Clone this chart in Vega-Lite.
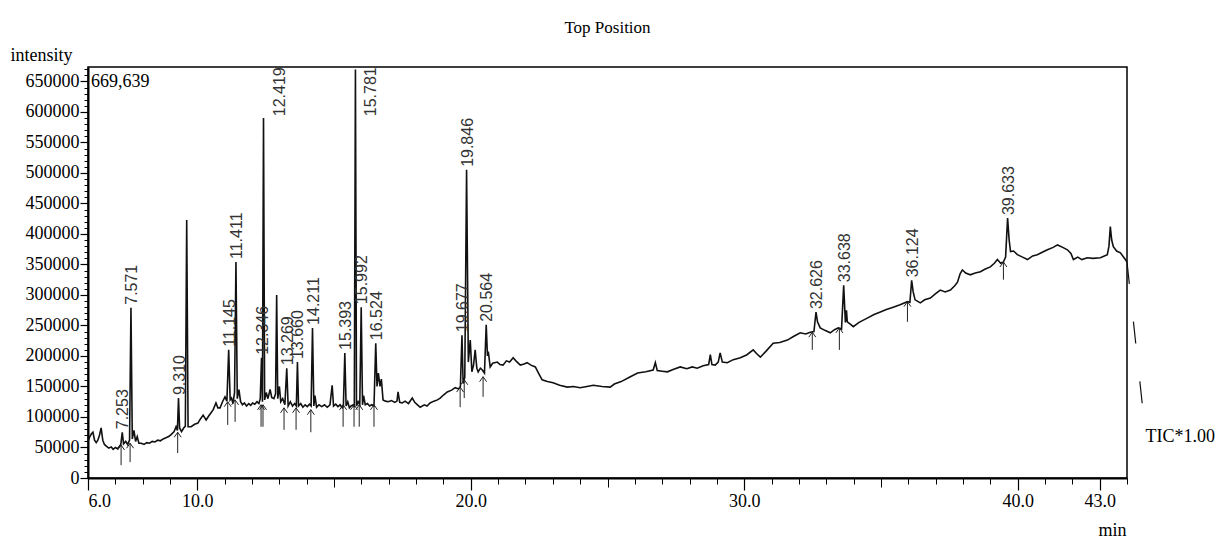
{
  "$schema": "https://vega.github.io/schema/vega-lite/v6.json",
  "width": 1039,
  "height": 411,
  "autosize": {"type": "none"},
  "padding": {"left": 88, "top": 67, "right": 88, "bottom": 63},
  "background": "white",
  "title": {"text": "Top Position", "font": "Liberation Serif", "fontSize": 17, "fontWeight": "normal", "color": "black", "anchor": "middle", "offset": 9},
  "config": {
    "view": {"stroke": "black", "strokeWidth": 1.5},
    "axis": {"grid": false, "labelFont": "Liberation Serif", "labelColor": "black", "tickColor": "black", "domainColor": "black", "titleFont": "Liberation Serif", "titleColor": "black", "titleFontWeight": "normal", "labelOverlap": false}
  },
  "datasets": {
    "trace": [
      {"t":6.00,"v":60000},{"t":6.05,"v":66000},{"t":6.12,"v":72000},{"t":6.18,"v":75000},{"t":6.24,"v":62000},{"t":6.30,"v":58000},{"t":6.36,"v":62000},{"t":6.42,"v":70000},{"t":6.48,"v":82000},{"t":6.54,"v":62000},{"t":6.60,"v":55000},{"t":6.68,"v":52000},{"t":6.76,"v":49000},{"t":6.85,"v":51000},{"t":6.92,"v":47000},{"t":7.00,"v":50000},{"t":7.08,"v":48000},{"t":7.15,"v":52000},{"t":7.20,"v":55000},{"t":7.253,"v":75000},{"t":7.30,"v":56000},{"t":7.38,"v":60000},{"t":7.45,"v":55000},{"t":7.52,"v":62000},{"t":7.571,"v":279000},{"t":7.62,"v":64000},{"t":7.68,"v":78000},{"t":7.74,"v":60000},{"t":7.80,"v":68000},{"t":7.86,"v":57000},{"t":7.95,"v":57000},{"t":8.05,"v":55000},{"t":8.15,"v":58000},{"t":8.25,"v":57000},{"t":8.35,"v":60000},{"t":8.45,"v":59000},{"t":8.55,"v":62000},{"t":8.65,"v":61000},{"t":8.75,"v":64000},{"t":8.85,"v":66000},{"t":8.95,"v":68000},{"t":9.04,"v":71000},{"t":9.15,"v":76000},{"t":9.22,"v":84000},{"t":9.27,"v":78000},{"t":9.31,"v":131000},{"t":9.35,"v":82000},{"t":9.42,"v":76000},{"t":9.50,"v":82000},{"t":9.56,"v":85000},{"t":9.61,"v":423000},{"t":9.66,"v":84000},{"t":9.77,"v":84000},{"t":9.90,"v":88000},{"t":10.02,"v":90000},{"t":10.10,"v":96000},{"t":10.21,"v":103000},{"t":10.32,"v":95000},{"t":10.42,"v":102000},{"t":10.50,"v":107000},{"t":10.58,"v":112000},{"t":10.68,"v":123000},{"t":10.75,"v":115000},{"t":10.83,"v":115000},{"t":10.92,"v":125000},{"t":11.01,"v":133000},{"t":11.08,"v":126000},{"t":11.145,"v":210000},{"t":11.20,"v":128000},{"t":11.25,"v":131000},{"t":11.30,"v":122000},{"t":11.36,"v":140000},{"t":11.411,"v":354000},{"t":11.46,"v":130000},{"t":11.52,"v":145000},{"t":11.58,"v":125000},{"t":11.65,"v":120000},{"t":11.72,"v":123000},{"t":11.80,"v":118000},{"t":11.88,"v":122000},{"t":11.95,"v":119000},{"t":12.02,"v":123000},{"t":12.10,"v":121000},{"t":12.18,"v":125000},{"t":12.25,"v":122000},{"t":12.30,"v":130000},{"t":12.346,"v":197000},{"t":12.38,"v":125000},{"t":12.419,"v":590000},{"t":12.46,"v":128000},{"t":12.52,"v":140000},{"t":12.58,"v":130000},{"t":12.66,"v":145000},{"t":12.72,"v":132000},{"t":12.80,"v":130000},{"t":12.86,"v":138000},{"t":12.90,"v":300000},{"t":12.94,"v":130000},{"t":13.00,"v":150000},{"t":13.05,"v":125000},{"t":13.12,"v":130000},{"t":13.20,"v":120000},{"t":13.269,"v":180000},{"t":13.32,"v":118000},{"t":13.40,"v":125000},{"t":13.48,"v":118000},{"t":13.56,"v":122000},{"t":13.62,"v":118000},{"t":13.66,"v":190000},{"t":13.70,"v":118000},{"t":13.78,"v":122000},{"t":13.86,"v":116000},{"t":13.94,"v":120000},{"t":14.02,"v":117000},{"t":14.10,"v":121000},{"t":14.16,"v":118000},{"t":14.211,"v":246000},{"t":14.26,"v":118000},{"t":14.30,"v":135000},{"t":14.36,"v":116000},{"t":14.45,"v":120000},{"t":14.55,"v":117000},{"t":14.65,"v":120000},{"t":14.75,"v":116000},{"t":14.85,"v":120000},{"t":14.93,"v":152000},{"t":14.98,"v":118000},{"t":15.06,"v":121000},{"t":15.14,"v":117000},{"t":15.22,"v":120000},{"t":15.30,"v":115000},{"t":15.34,"v":118000},{"t":15.393,"v":205000},{"t":15.44,"v":118000},{"t":15.50,"v":125000},{"t":15.56,"v":115000},{"t":15.62,"v":118000},{"t":15.70,"v":120000},{"t":15.74,"v":116000},{"t":15.781,"v":669639},{"t":15.82,"v":118000},{"t":15.88,"v":125000},{"t":15.94,"v":120000},{"t":15.992,"v":280000},{"t":16.04,"v":120000},{"t":16.08,"v":135000},{"t":16.14,"v":120000},{"t":16.22,"v":122000},{"t":16.30,"v":118000},{"t":16.38,"v":120000},{"t":16.46,"v":118000},{"t":16.524,"v":221000},{"t":16.57,"v":150000},{"t":16.62,"v":172000},{"t":16.68,"v":150000},{"t":16.73,"v":162000},{"t":16.79,"v":128000},{"t":16.88,"v":126000},{"t":16.98,"v":125000},{"t":17.10,"v":127000},{"t":17.22,"v":124000},{"t":17.30,"v":126000},{"t":17.34,"v":141000},{"t":17.40,"v":124000},{"t":17.49,"v":123000},{"t":17.60,"v":126000},{"t":17.72,"v":122000},{"t":17.86,"v":131000},{"t":17.95,"v":124000},{"t":18.05,"v":120000},{"t":18.15,"v":116000},{"t":18.30,"v":120000},{"t":18.40,"v":118000},{"t":18.51,"v":123000},{"t":18.65,"v":126000},{"t":18.78,"v":128000},{"t":18.88,"v":131000},{"t":19.00,"v":136000},{"t":19.14,"v":141000},{"t":19.30,"v":144000},{"t":19.43,"v":148000},{"t":19.55,"v":146000},{"t":19.62,"v":150000},{"t":19.677,"v":234000},{"t":19.72,"v":155000},{"t":19.78,"v":165000},{"t":19.846,"v":505000},{"t":19.91,"v":190000},{"t":19.98,"v":226000},{"t":20.04,"v":174000},{"t":20.10,"v":185000},{"t":20.16,"v":210000},{"t":20.22,"v":180000},{"t":20.27,"v":174000},{"t":20.35,"v":180000},{"t":20.42,"v":177000},{"t":20.50,"v":172000},{"t":20.564,"v":251000},{"t":20.61,"v":200000},{"t":20.64,"v":207000},{"t":20.71,"v":182000},{"t":20.80,"v":188000},{"t":20.97,"v":190000},{"t":21.07,"v":186000},{"t":21.18,"v":185000},{"t":21.30,"v":192000},{"t":21.42,"v":190000},{"t":21.55,"v":197000},{"t":21.65,"v":192000},{"t":21.81,"v":185000},{"t":21.95,"v":187000},{"t":22.06,"v":189000},{"t":22.20,"v":185000},{"t":22.36,"v":182000},{"t":22.50,"v":170000},{"t":22.61,"v":161000},{"t":22.80,"v":158000},{"t":23.01,"v":156000},{"t":23.25,"v":152000},{"t":23.53,"v":149000},{"t":23.75,"v":150000},{"t":24.00,"v":148000},{"t":24.25,"v":150000},{"t":24.48,"v":152000},{"t":24.80,"v":150000},{"t":25.10,"v":149000},{"t":25.25,"v":154000},{"t":25.50,"v":158000},{"t":25.80,"v":165000},{"t":26.10,"v":172000},{"t":26.40,"v":174000},{"t":26.67,"v":177000},{"t":26.75,"v":189000},{"t":26.82,"v":176000},{"t":27.00,"v":175000},{"t":27.19,"v":174000},{"t":27.40,"v":178000},{"t":27.66,"v":182000},{"t":27.90,"v":179000},{"t":28.10,"v":182000},{"t":28.28,"v":180000},{"t":28.50,"v":184000},{"t":28.70,"v":186000},{"t":28.76,"v":202000},{"t":28.82,"v":186000},{"t":28.94,"v":185000},{"t":29.05,"v":190000},{"t":29.12,"v":205000},{"t":29.20,"v":190000},{"t":29.38,"v":189000},{"t":29.60,"v":194000},{"t":29.86,"v":197000},{"t":30.10,"v":202000},{"t":30.33,"v":210000},{"t":30.45,"v":204000},{"t":30.59,"v":198000},{"t":30.80,"v":208000},{"t":31.06,"v":221000},{"t":31.30,"v":222000},{"t":31.58,"v":226000},{"t":31.80,"v":232000},{"t":32.05,"v":238000},{"t":32.25,"v":236000},{"t":32.42,"v":239000},{"t":32.55,"v":240000},{"t":32.626,"v":272000},{"t":32.68,"v":256000},{"t":32.78,"v":246000},{"t":32.95,"v":242000},{"t":33.15,"v":238000},{"t":33.30,"v":243000},{"t":33.44,"v":246000},{"t":33.56,"v":244000},{"t":33.638,"v":316000},{"t":33.70,"v":255000},{"t":33.74,"v":275000},{"t":33.77,"v":256000},{"t":33.88,"v":252000},{"t":33.99,"v":248000},{"t":34.20,"v":255000},{"t":34.50,"v":262000},{"t":34.75,"v":268000},{"t":34.98,"v":272000},{"t":35.20,"v":276000},{"t":35.45,"v":280000},{"t":35.70,"v":284000},{"t":35.97,"v":289000},{"t":36.06,"v":288000},{"t":36.124,"v":324000},{"t":36.18,"v":305000},{"t":36.25,"v":292000},{"t":36.44,"v":287000},{"t":36.60,"v":292000},{"t":36.81,"v":295000},{"t":37.00,"v":302000},{"t":37.17,"v":308000},{"t":37.35,"v":305000},{"t":37.54,"v":308000},{"t":37.70,"v":315000},{"t":37.80,"v":321000},{"t":37.90,"v":335000},{"t":37.98,"v":341000},{"t":38.10,"v":336000},{"t":38.27,"v":333000},{"t":38.45,"v":336000},{"t":38.64,"v":338000},{"t":38.80,"v":342000},{"t":39.00,"v":346000},{"t":39.15,"v":352000},{"t":39.26,"v":358000},{"t":39.38,"v":352000},{"t":39.48,"v":354000},{"t":39.56,"v":362000},{"t":39.633,"v":426000},{"t":39.69,"v":390000},{"t":39.74,"v":371000},{"t":39.85,"v":372000},{"t":39.99,"v":366000},{"t":40.18,"v":362000},{"t":40.36,"v":358000},{"t":40.55,"v":364000},{"t":40.72,"v":366000},{"t":40.90,"v":370000},{"t":41.09,"v":374000},{"t":41.30,"v":378000},{"t":41.46,"v":382000},{"t":41.65,"v":378000},{"t":41.82,"v":374000},{"t":41.95,"v":368000},{"t":42.04,"v":358000},{"t":42.20,"v":362000},{"t":42.35,"v":358000},{"t":42.55,"v":361000},{"t":42.75,"v":360000},{"t":43.03,"v":361000},{"t":43.28,"v":366000},{"t":43.34,"v":380000},{"t":43.39,"v":412000},{"t":43.44,"v":390000},{"t":43.50,"v":379000},{"t":43.62,"v":372000},{"t":43.76,"v":369000},{"t":43.94,"v":358000},{"t":44.00,"v":354000}
    ],
    "tail": [{"t":44.0,"v":354000},{"t":44.66,"v":79000}],
    "peaks": [
      {"rt":"7.253","t":7.253,"h":75000},{"rt":"7.571","t":7.571,"h":279000},{"rt":"9.310","t":9.31,"h":131000},{"rt":"11.145","t":11.145,"h":210000},{"rt":"11.411","t":11.411,"h":354000},{"rt":"12.346","t":12.346,"h":197000},{"rt":"12.419","t":12.419,"h":590000},{"rt":"13.269","t":13.269,"h":180000},{"rt":"13.660","t":13.66,"h":190000},{"rt":"14.211","t":14.211,"h":246000},{"rt":"15.393","t":15.393,"h":205000},{"rt":"15.781","t":15.781,"h":669639},{"rt":"15.992","t":15.992,"h":280000},{"rt":"16.524","t":16.524,"h":221000},{"rt":"19.677","t":19.677,"h":234000},{"rt":"19.846","t":19.846,"h":505000},{"rt":"20.564","t":20.564,"h":251000},{"rt":"32.626","t":32.626,"h":272000},{"rt":"33.638","t":33.638,"h":316000},{"rt":"36.124","t":36.124,"h":324000},{"rt":"39.633","t":39.633,"h":426000}
    ],
    "arrows": [
      {"t":7.21,"top":54000,"bot":21000},{"t":7.54,"top":57000,"bot":26000},{"t":9.28,"top":75000,"bot":41000},{"t":11.11,"top":125000,"bot":87000},{"t":11.38,"top":128000,"bot":92000},{"t":12.33,"top":120000,"bot":84000},{"t":12.40,"top":120000,"bot":84000},{"t":13.17,"top":115000,"bot":79000},{"t":13.61,"top":115000,"bot":79000},{"t":14.15,"top":112000,"bot":75000},{"t":15.33,"top":120000,"bot":84000},{"t":15.73,"top":120000,"bot":84000},{"t":15.92,"top":120000,"bot":84000},{"t":16.46,"top":120000,"bot":84000},{"t":19.61,"top":149000,"bot":116000},{"t":19.76,"top":161000,"bot":131000},{"t":20.45,"top":166000,"bot":133000},{"t":32.49,"top":239000,"bot":210000},{"t":33.48,"top":246000,"bot":210000},{"t":35.97,"top":289000,"bot":256000},{"t":39.48,"top":354000,"bot":325000}
    ],
    "notes": [{"n": 1}]
  },
  "resolve": {"scale": {"x": "shared", "y": "shared"}, "axis": {"x": "independent", "y": "independent"}},
  "layer": [
    {
      "data": {"name": "tail"},
      "mark": {"type": "line", "strokeOpacity": 0},
      "encoding": {
        "x": {"field": "t", "type": "quantitative", "scale": {"domain": [6, 44], "nice": false, "zero": false},
          "axis": {"orient": "bottom", "values": [6,7,8,9,10,11,12,13,14,15,16,17,18,19,20,21,22,23,24,25,26,27,28,29,30,31,32,33,34,35,36,37,38,39,40,41,42,43,44], "labels": false, "domain": false, "tickSize": 6, "tickWidth": 1, "title": null}},
        "y": {"field": "v", "type": "quantitative", "scale": {"domain": [0, 673600], "nice": false, "zero": false},
          "axis": {"orient": "left", "values": [0,10000,20000,30000,40000,50000,60000,70000,80000,90000,100000,110000,120000,130000,140000,150000,160000,170000,180000,190000,200000,210000,220000,230000,240000,250000,260000,270000,280000,290000,300000,310000,320000,330000,340000,350000,360000,370000,380000,390000,400000,410000,420000,430000,440000,450000,460000,470000,480000,490000,500000,510000,520000,530000,540000,550000,560000,570000,580000,590000,600000,610000,620000,630000,640000,650000,660000,670000], "labels": false, "domain": false, "tickSize": 4, "tickWidth": 1, "title": null}}
      }
    },
    {
      "data": {"name": "tail"},
      "mark": {"type": "line", "strokeOpacity": 0},
      "encoding": {
        "x": {"field": "t", "type": "quantitative",
          "axis": {"orient": "bottom", "values": [15, 25, 35], "labels": false, "domain": false, "tickSize": 9, "tickWidth": 1, "title": null}},
        "y": {"field": "v", "type": "quantitative", "axis": null}
      }
    },
    {
      "data": {"name": "trace"},
      "mark": {"type": "line", "color": "#111111", "strokeWidth": 1.6, "strokeJoin": "miter"},
      "encoding": {
        "x": {"field": "t", "type": "quantitative",
          "axis": {"orient": "bottom", "values": [6, 10, 20, 30, 40, 43], "format": ".1f", "tickSize": 12, "tickWidth": 1.2, "domainWidth": 2, "labelFontSize": 18, "labelPadding": 2,
            "title": "min", "titleFontSize": 18, "titleX": 1038, "titleY": 52, "titleAlign": "right", "titleBaseline": "middle", "titleAnchor": null}},
        "y": {"field": "v", "type": "quantitative",
          "axis": {"orient": "left", "values": [0,50000,100000,150000,200000,250000,300000,350000,400000,450000,500000,550000,600000,650000], "format": "d", "tickSize": 8, "tickWidth": 1.2, "domainWidth": 2, "labelFontSize": 18, "labelPadding": 1,
            "title": "intensity", "titleFontSize": 18, "titleAngle": 0, "titleX": -78, "titleY": -12, "titleAlign": "left", "titleBaseline": "middle"}}
      }
    },
    {
      "data": {"name": "tail"},
      "mark": {"type": "line", "color": "#111111", "strokeWidth": 1.2, "strokeDash": [22, 38], "clip": false},
      "encoding": {
        "x": {"field": "t", "type": "quantitative", "axis": null},
        "y": {"field": "v", "type": "quantitative", "axis": null}
      }
    },
    {
      "data": {"name": "arrows"},
      "mark": {"type": "rule", "color": "#222222", "strokeWidth": 1},
      "encoding": {
        "x": {"field": "t", "type": "quantitative", "axis": null},
        "y": {"field": "top", "type": "quantitative", "axis": null},
        "y2": {"field": "bot"}
      }
    },
    {
      "data": {"name": "arrows"},
      "mark": {"type": "point", "shape": "M-0.7,1L0,0L0.7,1", "filled": false, "color": "#222222", "strokeWidth": 1, "size": 100, "opacity": 1},
      "encoding": {
        "x": {"field": "t", "type": "quantitative", "axis": null},
        "y": {"field": "top", "type": "quantitative", "axis": null}
      }
    },
    {
      "data": {"name": "peaks"},
      "transform": [{"filter": "datum.h < 550000"}],
      "mark": {"type": "text", "angle": 270, "align": "left", "baseline": "middle", "dx": 3, "dy": 1, "font": "Liberation Sans", "fontSize": 16, "color": "#333333"},
      "encoding": {
        "x": {"field": "t", "type": "quantitative", "axis": null},
        "y": {"field": "h", "type": "quantitative", "axis": null},
        "text": {"field": "rt"}
      }
    },
    {
      "data": {"name": "peaks"},
      "transform": [{"filter": "datum.h >= 550000"}, {"calculate": "min(datum.h, 588000)", "as": "ly"}],
      "mark": {"type": "text", "angle": 270, "align": "left", "baseline": "middle", "dx": 3, "dy": 16, "font": "Liberation Sans", "fontSize": 16, "color": "#333333"},
      "encoding": {
        "x": {"field": "t", "type": "quantitative", "axis": null},
        "y": {"field": "ly", "type": "quantitative", "axis": null},
        "text": {"field": "rt"}
      }
    },
    {
      "data": {"name": "notes"},
      "mark": {"type": "text", "align": "left", "baseline": "top", "dx": 3, "dy": 6, "font": "Liberation Serif", "fontSize": 18, "color": "black", "text": "669,639"},
      "encoding": {
        "x": {"datum": 6, "type": "quantitative", "axis": null},
        "y": {"datum": 673600, "type": "quantitative", "axis": null}
      }
    },
    {
      "data": {"name": "notes"},
      "mark": {"type": "text", "align": "left", "baseline": "middle", "font": "Liberation Serif", "fontSize": 18, "color": "black", "text": "TIC*1.00"},
      "encoding": {
        "x": {"datum": 44.68, "type": "quantitative", "axis": null},
        "y": {"datum": 67000, "type": "quantitative", "axis": null}
      }
    }
  ]
}
